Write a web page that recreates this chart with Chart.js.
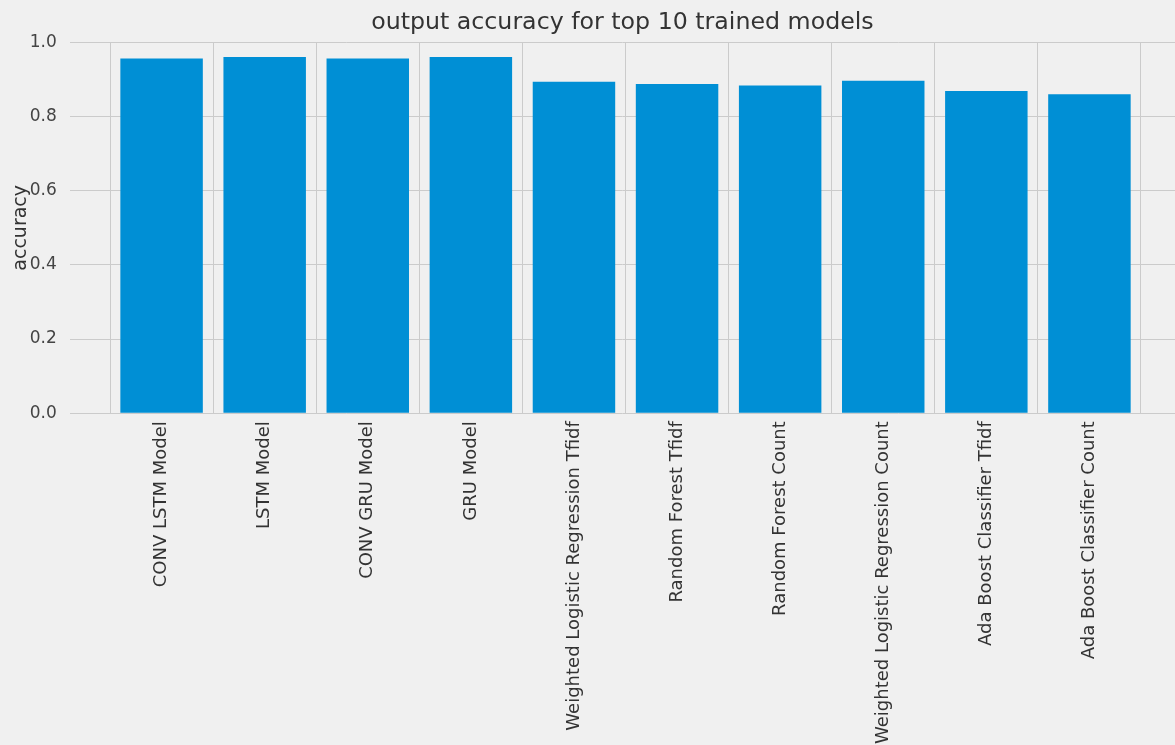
<!DOCTYPE html>
<html>
<head>
<meta charset="utf-8">
<script src="https://cdn.jsdelivr.net/npm/chart.js@4.4.0/dist/chart.umd.min.js"></script>
<style>
  html, body { margin: 0; padding: 0; background: #f0f0f0; overflow: hidden; }
  #wrap { width: 1175px; height: 745px; }
</style>
</head>
<body>
<div id="wrap"><canvas id="c" width="1175" height="745"></canvas></div>
<script>
const categories = [
  "CONV LSTM Model",
  "LSTM Model",
  "CONV GRU Model",
  "GRU Model",
  "Weighted Logistic Regression Tfidf",
  "Random Forest Tfidf",
  "Random Forest Count",
  "Weighted Logistic Regression Count",
  "Ada Boost Classifier Tfidf",
  "Ada Boost Classifier Count"
];
const accuracy = [0.957, 0.961, 0.957, 0.961, 0.894, 0.888, 0.884, 0.897, 0.869, 0.860];
const yTicks = [0.0, 0.2, 0.4, 0.6, 0.8, 1.0];

const FONT = "'DejaVu Sans', sans-serif";

new Chart(document.getElementById('c'), {
  type: 'bar',
  data: {
    datasets: [{
      label: 'accuracy',
      data: accuracy.map((v, i) => ({ x: i, y: v })),
      backgroundColor: '#008fd5',
      borderWidth: 0,
      barPercentage: 0.8,
      categoryPercentage: 1.0
    }]
  },
  options: {
    responsive: false,
    animation: false,
    layout: { padding: { left: 0, right: 0, top: 0, bottom: -7 } },
    plugins: {
      legend: { display: false },
      tooltip: { enabled: false },
      title: {
        display: true,
        text: 'output accuracy for top 10 trained models',
        color: '#333333',
        font: { family: FONT, size: 23.7, weight: 'normal' },
        padding: { top: 9, bottom: 5 },
        fullSize: false
      }
    },
    scales: {
      x: {
        type: 'linear',
        min: -0.89,
        max: 9.83,
        offset: false,
        afterBuildTicks: (scale) => {
          scale.ticks = categories.map((_, i) => ({ value: i }));
        },
        ticks: {
          autoSkip: false,
          minRotation: 90,
          maxRotation: 90,
          padding: 8,
          color: '#333333',
          font: { family: FONT, size: 18 },
          callback: (v) => categories[v]
        },
        grid: { color: '#cbcbcb', lineWidth: 1, drawTicks: false, tickLength: 0 },
        border: { display: false }
      },
      y: {
        min: 0,
        max: 1,
        afterBuildTicks: (scale) => {
          scale.ticks = yTicks.map(v => ({ value: v }));
        },
        ticks: {
          padding: 13,
          color: '#444444',
          font: { family: FONT, size: 17 },
          callback: (v) => v.toFixed(1)
        },
        grid: { color: '#cbcbcb', lineWidth: 1, drawTicks: false, tickLength: 0 },
        border: { display: false },
        title: {
          display: true,
          text: 'accuracy',
          color: '#333333',
          font: { family: FONT, size: 19 },
          padding: { top: 10, bottom: -16 }
        }
      }
    }
  }
});
</script>
</body>
</html>
